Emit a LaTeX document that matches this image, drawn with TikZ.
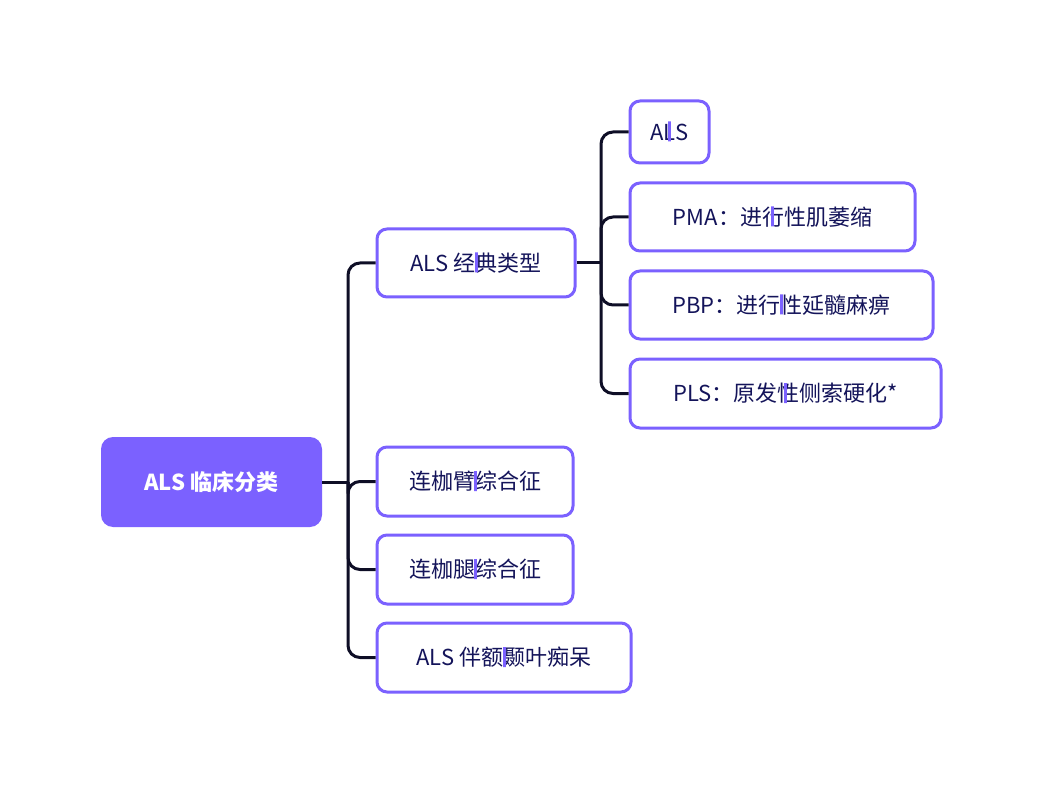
\documentclass[tikz,border=0pt]{standalone}
\usepackage{fontspec}
\setmainfont{Noto Sans CJK SC}
\definecolor{pur}{HTML}{7B61FF}
\definecolor{navy}{HTML}{14145A}
\definecolor{ln}{HTML}{0E0E26}
\begin{document}
\begin{tikzpicture}[x=1pt,y=-1pt,
 box/.style={draw=pur,line width=3pt,rounded corners=10pt,fill=white,text=navy,font=\fontsize{22}{26}\selectfont,inner sep=0pt},
 conn/.style={draw=ln,line width=3pt,rounded corners=12pt}]
\useasboundingbox (0,0) rectangle (1044,794);
\node[fill=pur,rounded corners=12pt,text=white,font=\fontsize{22}{26}\selectfont\bfseries,minimum width=221pt,minimum height=90pt,inner sep=0pt] (root) at (211.5,482) {ALS 临床分类};
\node[box,minimum width=198pt,minimum height=68pt] (a) at (476,263) {ALS 经典类型};
\node[box,minimum width=196pt,minimum height=69pt] (b) at (475,481.5) {连枷臂综合征};
\node[box,minimum width=196pt,minimum height=69pt] (c) at (475,569.5) {连枷腿综合征};
\node[box,minimum width=254pt,minimum height=69pt] (d) at (504,657.5) {ALS 伴额颞叶痴呆};
\node[box,minimum width=79pt,minimum height=62pt] (e) at (669.5,132) {ALS};
\node[box,minimum width=285pt,minimum height=68pt] (f) at (772.5,217) {PMA：进行性肌萎缩};
\node[box,minimum width=303pt,minimum height=68pt] (g) at (781.5,305) {PBP：进行性延髓麻痹};
\node[box,minimum width=311pt,minimum height=69pt] (h) at (785.5,393.5) {PLS：原发性侧索硬化*};
\coordinate (j1) at (348,482);
\coordinate (j2) at (601,263);
\draw[conn] (root.east) -- (j1);
\foreach \n in {a,b,c,d} \draw[conn] (j1) |- (\n.west);
\draw[conn] (a.east) -- (j2);
\foreach \n in {e,f,g,h} \draw[conn] (j2) |- (\n.west);
\foreach \n in {a,b,c,d,e,f,g,h} \node[box,minimum width=0pt] at (\n) {}; 
\end{tikzpicture}
\end{document}
